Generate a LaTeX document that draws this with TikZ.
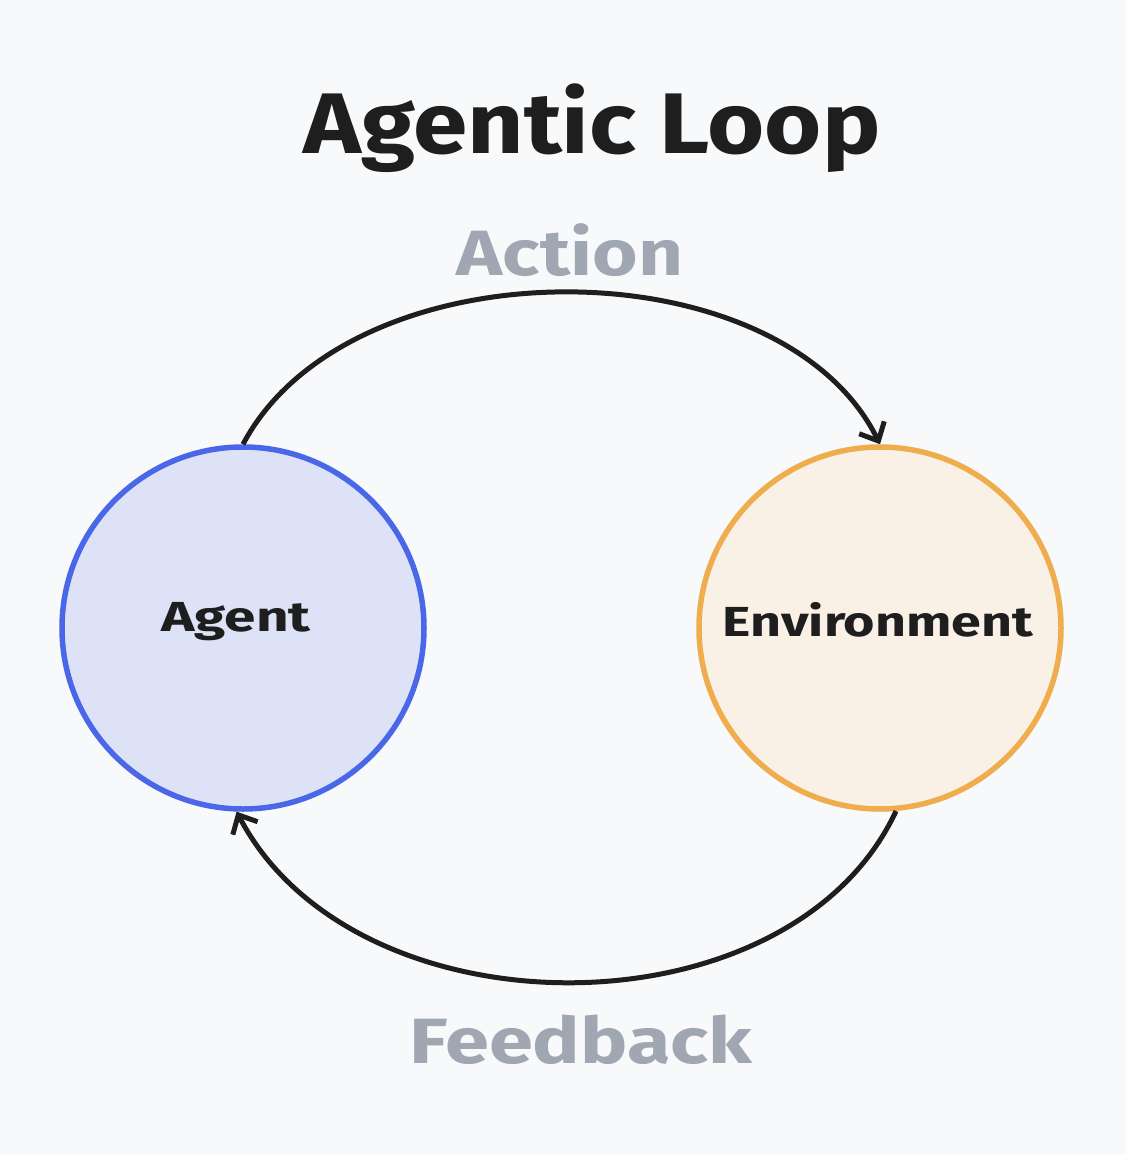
\documentclass[tikz,border=0pt]{standalone}
\usepackage{fontspec}
\setmainfont{Fira Sans}
\usetikzlibrary{arrows.meta}
\definecolor{bg}{HTML}{F8F9FB}
\definecolor{agfill}{HTML}{DEE2F7}
\definecolor{agline}{HTML}{4A67E8}
\definecolor{envfill}{HTML}{FAF1E6}
\definecolor{envline}{HTML}{F0AD4E}
\definecolor{lbl}{HTML}{A0A7B2}
\definecolor{ink}{HTML}{1E1E1E}
\tikzset{
  circ/.style={circle, minimum size=362pt, inner sep=0pt, line width=5.5pt},
  flow/.style={draw=ink, line width=5pt, -{Straight Barb[length=15pt,width=28pt,line width=5pt]}},
  lab/.style={text=lbl, font=\fontsize{64}{70}\selectfont\bfseries}
}
\begin{document}
\begin{tikzpicture}[x=1pt,y=-1pt]
\fill[bg] (0,0) rectangle (1126,1154);
\useasboundingbox (0,0) rectangle (1126,1154);
\node (title) at (592,128) {\fontsize{86}{95}\selectfont\bfseries\color{ink}\scalebox{1.14}[1]{Agentic Loop}};
\node[circ, draw=agline, fill=agfill] (agent) at (243,628) {};
\node[font=\fontsize{42}{48}\selectfont\bfseries, text=ink] at (236,622) {\scalebox{1.35}[1]{Agent}};
\node[circ, draw=envline, fill=envfill] (env) at (880,628) {};
\node[font=\fontsize{42}{48}\selectfont\bfseries, text=ink] at (878,620) {\scalebox{1.28}[1]{Environment}};
\draw[flow] (agent.90) .. controls (350,242) and (780,242) .. (env.90);
\draw[flow] (env.275) .. controls (790,1039) and (355,1039) .. (agent.268);
\node[lab] (action) at (570,250) {\scalebox{1.22}[1]{Action}};
\node[lab] (feedback) at (581,1040) {\scalebox{1.24}[1]{Feedback}};
\end{tikzpicture}
\end{document}
